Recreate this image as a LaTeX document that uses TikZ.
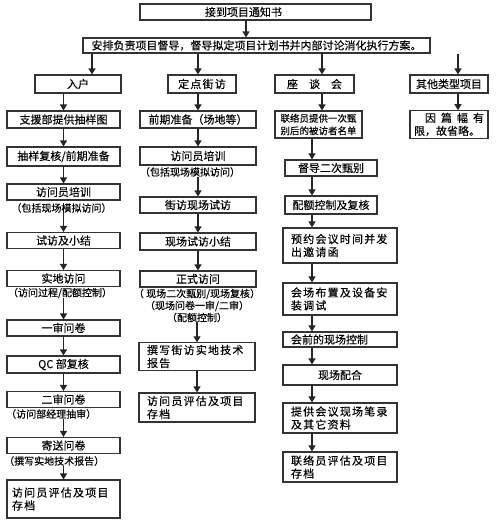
\documentclass[tikz,border=0pt]{standalone}
\usepackage{fontspec}
\newfontfamily\cjk{Noto Sans CJK SC}[FakeBold=0.2]
\newfontfamily\cjkw{Noto Sans CJK SC}[LetterSpace=11,FakeBold=0.2]
\usetikzlibrary{arrows.meta}
\tikzset{
  box/.style={draw=black!80, line width=1.1pt, fill=white, inner sep=2pt,
    font=\cjk\fontsize{11}{13}\selectfont, align=center},
  twoline/.style={box, align=left, font=\cjkw\fontsize{11}{13}\selectfont},
  sublabel/.style={inner sep=0pt, font=\cjk\fontsize{10}{12}\selectfont, align=center},
  arr/.style={draw=black!85, line width=1.1pt, -{Triangle[width=7pt,length=6pt]}},
}
\begin{document}
\begin{tikzpicture}[x=1pt,y=-1pt]
\fill[white] (0,0) rectangle (500,520);
\useasboundingbox (0,0) rectangle (500,520);

\coordinate (c0) at (246,0);
\coordinate (c1) at (92,0);
\coordinate (c3) at (322,0);
\coordinate (c4) at (458,0);
\coordinate (rc) at (312,0);

% top
\node[box, minimum width=231pt, minimum height=16pt] (top) at (255.5,12) {接到项目通知书\hspace*{24pt}};
\node[box, minimum width=347pt, minimum height=15pt] (sec) at (256.5,45.5) {安排负责项目督导，督导拟定项目计划书并内部讨论消化执行方案。};

% headers
\node[box, minimum width=86pt, minimum height=18pt] (h1) at (78,84) {入户};
\node[box, minimum width=68pt, minimum height=18pt, font=\cjkw\fontsize{11}{13}\selectfont] (h2) at (202,84) {定点街访};
\node[box, minimum width=79pt, minimum height=18pt] (h3) at (314.5,84) {座\hspace{11pt}谈\hspace{11pt}会};
\node[box, minimum width=78pt, minimum height=18pt] (h4) at (449,84) {其他类型项目};

% left column
\node[box, minimum width=113pt, minimum height=17pt] (L1) at (63.5,119.5) {支援部提供抽样图};
\node[box, minimum width=113pt, minimum height=19pt] (L2) at (63.5,156.5) {抽样复核/前期准备};
\node[box, minimum width=113pt, minimum height=16pt] (L3) at (63.5,192) {访问员培训};
\node[sublabel] (L3s) at (61.5,208) {（包括现场模拟访问）};
\node[box, minimum width=113pt, minimum height=16pt] (L4) at (63.5,240.5) {试访及小结};
\node[box, minimum width=113pt, minimum height=16pt] (L5) at (63.5,278.5) {实地访问};
\node[sublabel] (L5s) at (60,293) {（访问过程/配额控制）};
\node[box, minimum width=113pt, minimum height=16pt] (L6) at (63.5,328) {一审问卷};
\node[box, minimum width=113pt, minimum height=17pt] (L7) at (63.5,364.5) {QC 部复核};
\node[box, minimum width=113pt, minimum height=16pt] (L8) at (63.5,399.5) {二审问卷};
\node[sublabel, anchor=west] (L8s) at (6,414) {（访问部经理抽审）};
\node[box, minimum width=113pt, minimum height=16pt] (L9) at (63.5,445.5) {寄送问卷};
\node[sublabel, anchor=west] (L9s) at (4,461) {（撰写实地技术报告）};
\node[twoline, minimum width=113pt, minimum height=38pt, text width=103pt] (L10) at (63.5,499) {访问员评估及项目\\存档};

% middle column
\node[box, minimum width=116pt, minimum height=17pt] (M1) at (198,119.5) {前期准备（场地等）};
\node[box, minimum width=116pt, minimum height=18pt] (M2) at (198,156) {访问员培训};
\node[sublabel] (M2s) at (190,172) {（包括现场模拟访问）};
\node[box, minimum width=116pt, minimum height=16pt] (M3) at (198,205) {街访现场试访};
\node[box, minimum width=116pt, minimum height=17pt] (M4) at (198,241.5) {现场试访小结};
\node[box, minimum width=116pt, minimum height=16pt] (M5) at (198,279) {正式访问};
\node[sublabel] (M5s) at (197,305.5) {（ 现场二次甄别/现场复核）\\（现场问卷一审/二审）\\（配额控制）};
\node[twoline, minimum width=116pt, minimum height=27pt, text width=100pt] (M6) at (197,356.5) {撰写街访实地技术\\报告};
\node[twoline, minimum width=116pt, minimum height=29pt, text width=100pt] (M7) at (197,407.5) {访问员评估及项目\\存档};

% right column
\node[box, align=left, minimum width=87pt, minimum height=27pt, text width=76pt, font=\cjk\fontsize{9.5}{12.5}\selectfont] (R1) at (318.5,124.5) {联络员提供一次甄\\别后的被访者名单};
\node[box, minimum width=92pt, minimum height=16pt] (R2) at (331,168) {督导二次甄别};
\node[box, minimum width=92pt, minimum height=18pt] (R3) at (331,205) {配额控制及复核};
\node[twoline, minimum width=114pt, minimum height=35pt, text width=98pt] (R4) at (340,245.5) {预约会议时间并发\\出邀请函};
\node[twoline, minimum width=114pt, minimum height=32pt, text width=98pt] (R5) at (340,299) {会场布置及设备安\\装调试};
\node[box, align=left, minimum width=114pt, minimum height=15pt, text width=98pt] (R6) at (340,339.5) {会前的现场控制};
\node[box, minimum width=114pt, minimum height=20pt] (R7) at (340,375) {现场配合};
\node[twoline, minimum width=114pt, minimum height=30pt, text width=98pt] (R8) at (340,418) {提供会议现场笔录\\及其它资料};
\node[twoline, minimum width=114pt, minimum height=30pt, text width=98pt] (R9) at (340,467) {联络员评估及项目\\存档};

% far right
\node[box, align=left, minimum width=78pt, minimum height=27pt, text width=70pt] (O1) at (449,124.5) {\makebox[70pt][r]{因\hspace{5pt}篇\hspace{5pt}幅\hspace{5pt}有}\\限，故省略。};

% connectors
\draw[arr] (top.south -| c0) -- (sec.north -| c0);
\draw[arr] (sec.south -| c1) -- (h1.north -| c1);
\draw[arr] (sec.south -| M1.north) -- (h2.north -| M1.north);
\draw[arr] (sec.south -| c3) -- (h3.north -| c3);
\draw[arr] (sec.south -| c4) -- (h4.north -| c4);

\draw[arr] (h1.south -| L1.north) -- (L1.north);
\draw[arr] (L1) -- (L2);
\draw[arr] (L2) -- (L3);
\draw[arr] (L3s.south -| L4.north) -- (L4.north);
\draw[arr] (L4) -- (L5);
\draw[arr] (L5s.south -| L6.north) -- (L6.north);
\draw[arr] (L6) -- (L7);
\draw[arr] (L7) -- (L8);
\draw[arr] (L8s.south -| L9.north) -- (L9.north);
\draw[arr] (L9s.south -| L10.north) -- (L10.north);

\draw[arr] (h2.south -| M1.north) -- (M1.north);
\draw[arr] (M1) -- (M2);
\draw[arr] (M2s.south -| M3.north) -- (M3.north);
\draw[arr] (M3.south -| M4.north) -- (M4.north);
\draw[arr] (M4) -- (M5);
\draw[arr] (M5s.south -| M6.north) -- (M6.north);
\draw[arr] (M6) -- (M7);

\draw[arr] (h3.south -| c3) -- (R1.north -| c3);
\draw[arr] (R1.south -| rc) -- (R2.north -| rc);
\draw[arr] (R2.south -| rc) -- (R3.north -| rc);
\draw[arr] (R3.south -| rc) -- (R4.north -| rc);
\draw[arr] (R4.south -| rc) -- (R5.north -| rc);
\draw[arr] (R5.south -| rc) -- (R6.north -| rc);
\draw[arr] (R6.south -| rc) -- (R7.north -| rc);
\draw[arr] (R7.south -| rc) -- (R8.north -| rc);
\draw[arr] (R8.south -| rc) -- (R9.north -| rc);

\draw[arr] (h4.south -| c4) -- (O1.north -| c4);
\end{tikzpicture}
\end{document}
